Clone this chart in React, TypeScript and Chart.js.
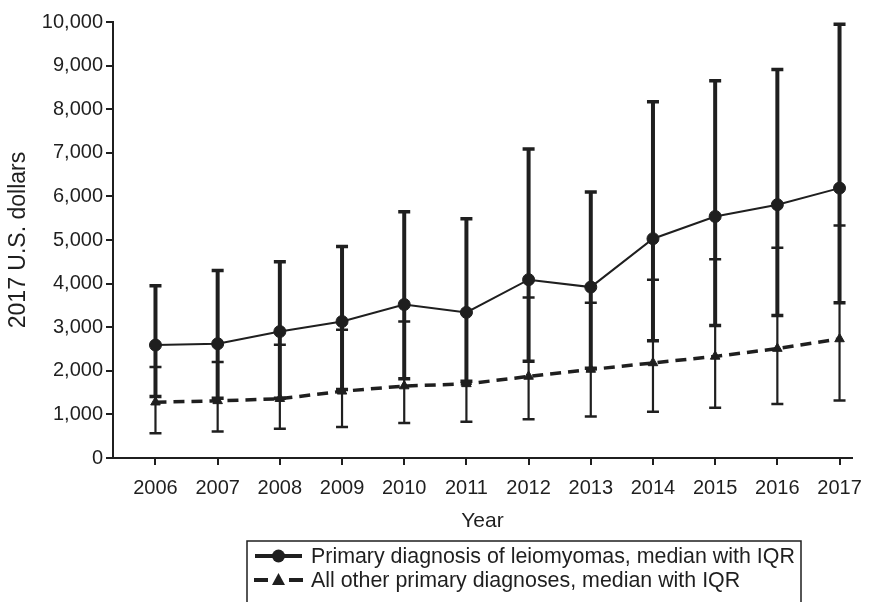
import React, { useEffect, useRef } from "react";
import { Chart, registerables } from "chart.js";

Chart.register(...registerables);

const years = [2006, 2007, 2008, 2009, 2010, 2011, 2012, 2013, 2014, 2015, 2016, 2017];
const leioMedian = [2590, 2620, 2900, 3130, 3520, 3340, 4090, 3920, 5030, 5540, 5810, 6190];
const leioQ1 = [1410, 1370, 1370, 1570, 1820, 1760, 2220, 2060, 2690, 3040, 3270, 3560];
const leioQ3 = [3950, 4300, 4500, 4850, 5650, 5490, 7090, 6100, 8170, 8650, 8910, 9950];
const otherMedian = [1280, 1310, 1360, 1530, 1650, 1700, 1870, 2030, 2180, 2330, 2510, 2730];
const otherQ1 = [570, 610, 670, 710, 800, 830, 890, 950, 1060, 1150, 1240, 1320];
const otherQ3 = [2090, 2200, 2600, 2940, 3130, 3340, 3680, 3560, 4090, 4560, 4820, 5330];
const yTicks = [0, 1000, 2000, 3000, 4000, 5000, 6000, 7000, 8000, 9000, 10000];

const seriesNames = [
  "Primary diagnosis of leiomyomas, median with IQR",
  "All other primary diagnoses, median with IQR",
];
const xTitle = "Year";
const yTitle = "2017 U.S. dollars";

const INK = "#1f1f1f";
const FONT = "'Liberation Sans', Arial, Helvetica, sans-serif";

const errorBars = [
  { q1: leioQ1, q3: leioQ3, lw: 4, capW: 12, capLw: 3.5 },
  { q1: otherQ1, q3: otherQ3, lw: 2.2, capW: 12, capLw: 2.5 },
];

const errorBarPlugin = {
  id: "errorBars",
  beforeDatasetsDraw(chart: any) {
    const ctx = chart.ctx;
    const xs = chart.scales.x;
    const ys = chart.scales.y;
    ctx.save();
    ctx.strokeStyle = INK;
    ctx.lineCap = "butt";
    [1, 0].forEach((di) => {
      const eb = errorBars[di];
      years.forEach((yr, i) => {
        const x = xs.getPixelForValue(yr);
        const y1 = ys.getPixelForValue(eb.q1[i]);
        const y3 = ys.getPixelForValue(eb.q3[i]);
        ctx.lineWidth = eb.lw;
        ctx.beginPath();
        ctx.moveTo(x, y1);
        ctx.lineTo(x, y3);
        ctx.stroke();
        ctx.lineWidth = eb.capLw;
        ctx.beginPath();
        ctx.moveTo(x - eb.capW / 2, y1);
        ctx.lineTo(x + eb.capW / 2, y1);
        ctx.moveTo(x - eb.capW / 2, y3);
        ctx.lineTo(x + eb.capW / 2, y3);
        ctx.stroke();
      });
    });
    ctx.restore();
  },
};

const bgPlugin = {
  id: "bg",
  beforeDraw(chart: any) {
    const ctx = chart.ctx;
    ctx.save();
    ctx.fillStyle = "#ffffff";
    ctx.fillRect(0, 0, chart.width, chart.height);
    ctx.restore();
  },
};

const legendPlugin = {
  id: "boxLegend",
  afterDraw(chart: any) {
    const ctx = chart.ctx;
    ctx.save();
    const left = 247;
    const right = 801;
    const top = 541;
    const bottom = 604;
    ctx.strokeStyle = INK;
    ctx.lineWidth = 1.5;
    ctx.beginPath();
    ctx.moveTo(left, bottom);
    ctx.lineTo(left, top);
    ctx.lineTo(right, top);
    ctx.lineTo(right, bottom);
    ctx.stroke();

    const rows = [556, 580];
    ctx.lineWidth = 4;
    ctx.beginPath();
    ctx.moveTo(255, rows[0]);
    ctx.lineTo(302, rows[0]);
    ctx.stroke();
    ctx.fillStyle = INK;
    ctx.beginPath();
    ctx.arc(278.5, rows[0], 6.5, 0, Math.PI * 2);
    ctx.fill();
    ctx.lineWidth = 4;
    ctx.beginPath();
    ctx.moveTo(254, rows[1]);
    ctx.lineTo(268, rows[1]);
    ctx.moveTo(289, rows[1]);
    ctx.lineTo(303, rows[1]);
    ctx.stroke();
    ctx.beginPath();
    ctx.moveTo(278.5, rows[1] - 7);
    ctx.lineTo(285, rows[1] + 5);
    ctx.lineTo(272, rows[1] + 5);
    ctx.closePath();
    ctx.fill();

    ctx.font = `21.4px ${FONT}`;
    ctx.textAlign = "left";
    ctx.textBaseline = "middle";
    ctx.fillText(seriesNames[0], 311, rows[0] + 1);
    ctx.fillText(seriesNames[1], 311, rows[1] + 1);
    ctx.restore();
  },
};

export default function App() {
  const ref = useRef<HTMLCanvasElement | null>(null);

  useEffect(() => {
    if (!ref.current) return;
    const chart = new Chart(ref.current, {
      type: "line",
      data: {
        datasets: [
          {
            label: seriesNames[0],
            data: years.map((x, i) => ({ x, y: leioMedian[i] })),
            borderColor: INK,
            backgroundColor: INK,
            borderWidth: 2,
            pointStyle: "circle",
            pointRadius: 6,
            pointBorderWidth: 1,
            pointBackgroundColor: INK,
            pointBorderColor: INK,
            tension: 0,
            order: 0,
          },
          {
            label: seriesNames[1],
            data: years.map((x, i) => ({ x, y: otherMedian[i] })),
            borderColor: INK,
            backgroundColor: INK,
            borderWidth: 3.5,
            borderDash: [11, 7],
            pointStyle: "triangle",
            pointRadius: 5.5,
            pointBorderWidth: 1,
            pointBackgroundColor: INK,
            pointBorderColor: INK,
            tension: 0,
            order: 1,
          },
        ],
      },
      options: {
        animation: false,
        responsive: false,
        devicePixelRatio: 1,
        layout: { padding: { top: 22, right: 13, bottom: 64, left: 0 } },
        plugins: {
          legend: { display: false },
          tooltip: { enabled: false },
        },
        scales: {
          x: {
            type: "linear",
            min: 2005.317,
            max: 2017.2,
            grid: {
              display: true,
              drawOnChartArea: false,
              drawTicks: true,
              tickLength: 7,
              color: INK,
              lineWidth: 2,
            },
            border: { display: true, color: INK, width: 2 },
            ticks: {
              stepSize: 1,
              includeBounds: false,
              autoSkip: false,
              maxRotation: 0,
              padding: 13,
              color: INK,
              font: { size: 20, family: FONT, lineHeight: 1.0 },
              callback: (v: any) => String(v),
            },
            title: {
              display: true,
              text: xTitle,
              color: INK,
              font: { size: 21, family: FONT, lineHeight: 1.0 },
              padding: { top: 0, bottom: 6 },
            },
          },
          y: {
            type: "linear",
            min: 0,
            max: 10000,
            afterFit: (scale: any) => {
              scale.width = 113;
            },
            afterBuildTicks: (scale: any) => {
              scale.ticks = yTicks.map((value) => ({ value }));
            },
            grid: {
              display: true,
              drawOnChartArea: false,
              drawTicks: true,
              tickLength: 7,
              color: INK,
              lineWidth: 2,
            },
            border: { display: true, color: INK, width: 2 },
            ticks: {
              padding: 3,
              color: INK,
              font: { size: 20, family: FONT },
              callback: (v: any) => Number(v).toLocaleString("en-US"),
            },
            title: {
              display: true,
              text: yTitle,
              color: INK,
              font: { size: 23, family: FONT, lineHeight: 1.0 },
              padding: { top: 7, bottom: 0 },
            },
          },
        },
      },
      plugins: [bgPlugin, errorBarPlugin, legendPlugin],
    } as any);
    return () => chart.destroy();
  }, []);

  return (
    <div style={{ position: "fixed", left: 0, top: 0, width: 875, height: 602, background: "#fff" }}>
      <canvas ref={ref} width={875} height={602} style={{ display: "block" }} />
    </div>
  );
}
